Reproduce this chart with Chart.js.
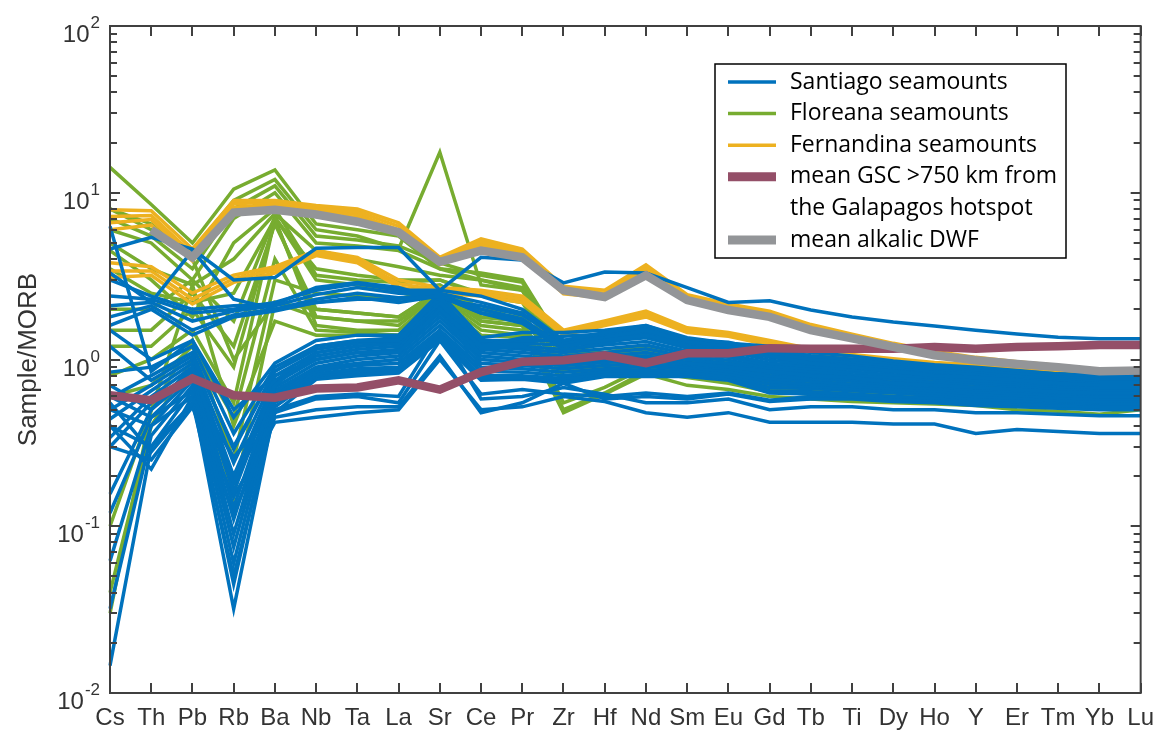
<!DOCTYPE html>
<html>
<head>
<meta charset="utf-8">
<script src="https://cdn.jsdelivr.net/npm/chart.js@4.4.0/dist/chart.umd.min.js"></script>
<style>
  html, body { margin: 0; padding: 0; background: #fff; }
  canvas { display: block; }
</style>
</head>
<body>
<canvas id="spiderChart" width="1165" height="734"></canvas>
<script>
// element order along the x axis
const elements = ["Cs", "Th", "Pb", "Rb", "Ba", "Nb", "Ta", "La", "Sr", "Ce", "Pr", "Zr", "Hf",
  "Nd", "Sm", "Eu", "Gd", "Tb", "Ti", "Dy", "Ho", "Y", "Er", "Tm", "Yb", "Lu"];

// y axis decades and their exponents
const yTickValues = [0.01, 0.1, 1, 10, 100];
const yTickExponents = ["-2", "-1", "0", "1", "2"];

// Santiago seamounts (sample/MORB)
const santiago = [
  [6.3, 0.85, 1.3, 0.5, 0.8, 1.0, 1.1, 1.1, 2.0, 1.2, 1.2, 0.95, 1.0, 1.05, 0.95, 0.9, 0.85, 0.8, 0.78, 0.72, 0.7, 0.68, 0.66, 0.64, 0.63, 0.63],
  [4.6, 5.4, 4.6, 3.0, 3.1, 4.65, 4.7, 4.7, 2.6, 4.1, 3.95, 2.88, 3.35, 3.3, 2.7, 2.2, 2.25, 1.98, 1.8, 1.68, 1.59, 1.5, 1.42, 1.36, 1.33, 1.33],
  [3.3, 2.2, 4.5, 2.3, 2.0, 2.2, 2.3, 2.3, 2.4, 1.9, 1.7, 1.2, 1.3, 1.4, 1.2, 1.1, 1.05, 0.95, 0.9, 0.85, 0.8, 0.78, 0.75, 0.72, 0.7, 0.7],
  [2.4, 2.3, 1.9, 2.0, 2.2, 2.6, 2.85, 2.6, 2.6, 2.4, 2.0, 1.3, 1.45, 1.6, 1.35, 1.25, 1.2, 1.1, 1.05, 0.98, 0.93, 0.9, 0.86, 0.82, 0.8, 0.8],
  [2.1, 2.2, 1.7, 1.95, 2.1, 2.45, 2.7, 2.5, 2.5, 2.2, 1.9, 1.25, 1.35, 1.5, 1.28, 1.2, 1.15, 1.05, 1.0, 0.95, 0.9, 0.87, 0.83, 0.8, 0.77, 0.77],
  [1.8, 2.1, 1.5, 1.85, 2.0, 2.3, 2.5, 2.35, 2.45, 2.0, 1.75, 1.2, 1.3, 1.45, 1.25, 1.15, 1.1, 1.0, 0.97, 0.92, 0.88, 0.85, 0.8, 0.78, 0.75, 0.75],
  [1.6, 2.0, 1.4, 1.8, 1.95, 2.2, 2.35, 2.2, 2.4, 1.9, 1.65, 1.15, 1.25, 1.4, 1.2, 1.1, 1.05, 0.97, 0.93, 0.9, 0.85, 0.82, 0.78, 0.76, 0.73, 0.73],
  [3.0, 2.4, 2.0, 2.1, 2.15, 2.7, 2.9, 2.7, 2.3, 2.1, 1.85, 1.3, 1.4, 1.55, 1.3, 1.2, 1.15, 1.05, 1.0, 0.95, 0.9, 0.88, 0.84, 0.8, 0.78, 0.78],
  [1.5, 1.0, 1.3, 0.45, 0.95, 1.3, 1.4, 1.4, 2.5, 1.35, 1.45, 1.45, 1.5, 1.6, 1.32, 1.27, 1.12, 1.05, 1.0, 0.96, 0.92, 0.88, 0.85, 0.82, 0.8, 0.8],
  [1.2, 0.75, 1.05, 0.3, 0.85, 1.2, 1.3, 1.3, 2.4, 1.2, 1.35, 1.38, 1.42, 1.5, 1.27, 1.22, 1.07, 1.01, 0.97, 0.93, 0.89, 0.85, 0.83, 0.8, 0.78, 0.78],
  [0.84, 0.9, 1.2, 0.36, 0.9, 1.2, 1.3, 1.35, 2.3, 1.3, 1.3, 1.3, 1.35, 1.42, 1.22, 1.17, 1.03, 0.97, 0.93, 0.9, 0.86, 0.83, 0.81, 0.78, 0.76, 0.76],
  [0.59, 0.8, 1.1, 0.29, 0.85, 1.15, 1.25, 1.3, 2.2, 1.25, 1.25, 1.22, 1.28, 1.35, 1.17, 1.12, 0.99, 0.94, 0.9, 0.87, 0.83, 0.8, 0.78, 0.76, 0.74, 0.74],
  [0.7, 0.5, 0.9, 0.18, 0.7, 1.1, 1.2, 1.25, 2.2, 1.15, 1.2, 1.15, 1.22, 1.28, 1.12, 1.07, 0.95, 0.91, 0.87, 0.84, 0.81, 0.78, 0.76, 0.74, 0.72, 0.72],
  [0.5, 0.7, 1.0, 0.24, 0.8, 1.1, 1.2, 1.25, 2.1, 1.2, 1.15, 1.1, 1.16, 1.22, 1.08, 1.03, 0.92, 0.88, 0.84, 0.81, 0.78, 0.75, 0.73, 0.71, 0.7, 0.7],
  [0.44, 0.65, 0.95, 0.2, 0.75, 1.05, 1.15, 1.2, 2.0, 1.15, 1.1, 1.05, 1.1, 1.16, 1.04, 0.99, 0.89, 0.85, 0.81, 0.78, 0.76, 0.73, 0.71, 0.69, 0.68, 0.68],
  [0.34, 0.6, 0.9, 0.16, 0.72, 1.0, 1.1, 1.15, 1.9, 1.1, 1.05, 1.0, 1.05, 1.1, 1.0, 0.95, 0.86, 0.82, 0.78, 0.76, 0.73, 0.71, 0.69, 0.67, 0.66, 0.66],
  [0.3, 0.55, 0.85, 0.13, 0.68, 0.95, 1.05, 1.1, 1.8, 1.05, 1.0, 0.96, 1.0, 1.05, 0.96, 0.92, 0.83, 0.79, 0.76, 0.73, 0.71, 0.68, 0.67, 0.65, 0.64, 0.64],
  [0.156, 0.5, 0.8, 0.11, 0.65, 0.9, 1.0, 1.05, 1.7, 1.0, 0.96, 0.92, 0.96, 1.0, 0.93, 0.88, 0.8, 0.77, 0.74, 0.71, 0.69, 0.66, 0.65, 0.63, 0.62, 0.62],
  [0.12, 0.45, 0.78, 0.09, 0.62, 0.88, 0.95, 1.0, 1.6, 0.95, 0.92, 0.88, 0.92, 0.95, 0.9, 0.85, 0.77, 0.74, 0.71, 0.69, 0.67, 0.64, 0.63, 0.61, 0.6, 0.6],
  [0.062, 0.4, 0.75, 0.075, 0.6, 0.85, 0.92, 0.95, 1.5, 0.9, 0.88, 0.84, 0.88, 0.91, 0.87, 0.82, 0.74, 0.71, 0.69, 0.67, 0.65, 0.62, 0.61, 0.59, 0.58, 0.58],
  [0.032, 0.35, 0.7, 0.06, 0.58, 0.82, 0.88, 0.9, 1.45, 0.85, 0.84, 0.8, 0.85, 0.87, 0.84, 0.79, 0.71, 0.69, 0.67, 0.65, 0.63, 0.6, 0.59, 0.57, 0.56, 0.57],
  [0.0146, 0.3, 0.65, 0.045, 0.55, 0.8, 0.85, 0.88, 1.4, 0.8, 0.8, 0.77, 0.82, 0.84, 0.82, 0.77, 0.68, 0.67, 0.65, 0.63, 0.61, 0.58, 0.57, 0.56, 0.55, 0.55],
  [0.4, 0.22, 0.6, 0.032, 0.52, 0.78, 0.82, 0.85, 1.35, 0.78, 0.78, 0.74, 0.8, 0.81, 0.8, 0.76, 0.65, 0.64, 0.62, 0.6, 0.59, 0.57, 0.56, 0.55, 0.54, 0.54],
  [0.55, 0.28, 0.55, 0.05, 0.48, 0.76, 0.8, 0.83, 1.3, 0.75, 0.76, 0.72, 0.79, 0.79, 0.79, 0.75, 0.63, 0.62, 0.6, 0.58, 0.57, 0.55, 0.54, 0.53, 0.52, 0.52],
  [0.4, 0.3, 0.55, 0.15, 0.42, 0.45, 0.48, 0.5, 1.0, 0.5, 0.52, 0.6, 0.56, 0.48, 0.45, 0.48, 0.42, 0.42, 0.42, 0.41, 0.41, 0.36, 0.38, 0.37, 0.36, 0.36],
  [0.3, 0.25, 0.52, 0.12, 0.45, 0.5, 0.52, 0.52, 1.05, 0.48, 0.55, 0.72, 0.58, 0.6, 0.58, 0.62, 0.56, 0.58, 0.58, 0.56, 0.55, 0.53, 0.52, 0.51, 0.5, 0.5],
  [0.5, 0.4, 0.6, 0.2, 0.48, 0.58, 0.6, 0.55, 1.3, 0.62, 0.66, 0.62, 0.6, 0.63, 0.6, 0.63, 0.57, 0.6, 0.6, 0.58, 0.57, 0.55, 0.54, 0.53, 0.52, 0.52],
  [0.6, 0.45, 0.65, 0.26, 0.5, 0.6, 0.62, 0.6, 1.5, 0.58, 0.6, 0.68, 0.62, 0.55, 0.55, 0.58, 0.5, 0.52, 0.52, 0.5, 0.5, 0.48, 0.48, 0.47, 0.46, 0.46]
];

// Floreana seamounts
const floreana = [
  [14.2, 8.5, 5.0, 10.5, 13.7, 6.5, 6.0, 5.5, 3.5, 3.3, 3.0, 1.2, 1.1, 1.2, 1.0, 0.95, 0.9, 0.85, 0.8, 0.78, 0.75, 0.72, 0.7, 0.68, 0.66, 0.66],
  [8.0, 6.0, 4.5, 9.0, 12.0, 6.0, 5.5, 4.6, 17.5, 2.8, 2.6, 1.1, 1.0, 1.1, 0.95, 0.9, 0.85, 0.8, 0.78, 0.75, 0.72, 0.7, 0.68, 0.66, 0.64, 0.64],
  [7.0, 5.5, 3.5, 8.0, 11.0, 5.5, 5.2, 4.8, 3.8, 3.2, 2.9, 1.15, 1.05, 1.15, 1.0, 0.93, 0.88, 0.83, 0.8, 0.77, 0.74, 0.71, 0.69, 0.67, 0.65, 0.65],
  [6.0, 5.0, 3.0, 7.0, 10.0, 5.0, 4.8, 4.5, 3.5, 3.0, 2.7, 1.1, 1.0, 1.1, 0.95, 0.9, 0.85, 0.8, 0.77, 0.74, 0.72, 0.7, 0.68, 0.66, 0.64, 0.64],
  [5.0, 3.5, 2.8, 4.0, 7.5, 4.5, 4.0, 3.6, 3.2, 3.0, 2.6, 1.0, 0.95, 1.05, 0.9, 0.87, 0.82, 0.78, 0.75, 0.72, 0.7, 0.68, 0.66, 0.64, 0.62, 0.62],
  [3.5, 2.5, 2.2, 2.5, 7.0, 3.5, 3.2, 3.0, 3.0, 2.4, 2.2, 0.9, 0.88, 0.98, 0.88, 0.84, 0.78, 0.74, 0.72, 0.7, 0.68, 0.66, 0.64, 0.62, 0.6, 0.6],
  [2.0, 2.0, 3.0, 1.7, 7.2, 3.0, 2.8, 2.6, 2.8, 2.0, 1.9, 0.85, 0.85, 0.95, 0.88, 0.82, 0.72, 0.68, 0.66, 0.64, 0.62, 0.6, 0.58, 0.57, 0.56, 0.56],
  [1.5, 1.5, 2.5, 1.2, 6.5, 2.0, 1.9, 1.8, 2.6, 1.8, 1.7, 0.55, 0.68, 0.9, 0.82, 0.78, 0.68, 0.64, 0.62, 0.6, 0.58, 0.57, 0.56, 0.54, 0.53, 0.53],
  [1.2, 1.2, 2.0, 0.9, 6.8, 1.8, 1.7, 1.6, 2.5, 1.7, 1.6, 0.5, 0.63, 0.85, 0.78, 0.72, 0.64, 0.62, 0.6, 0.58, 0.56, 0.55, 0.54, 0.53, 0.52, 0.52],
  [0.8, 1.0, 1.5, 0.55, 7.0, 1.6, 1.5, 1.5, 2.4, 1.6, 1.5, 0.48, 0.62, 0.82, 0.7, 0.66, 0.6, 0.58, 0.56, 0.55, 0.54, 0.53, 0.5, 0.49, 0.47, 0.5],
  [0.6, 0.7, 1.2, 0.45, 4.0, 1.5, 1.45, 1.4, 2.3, 1.5, 1.4, 0.75, 0.8, 0.9, 0.82, 0.76, 0.66, 0.62, 0.6, 0.58, 0.56, 0.55, 0.53, 0.52, 0.51, 0.51],
  [0.1, 0.5, 1.3, 0.25, 3.0, 2.5, 2.4, 2.3, 2.7, 1.9, 1.8, 0.85, 0.85, 0.95, 0.86, 0.8, 0.72, 0.67, 0.65, 0.63, 0.61, 0.59, 0.58, 0.56, 0.55, 0.55],
  [0.04, 0.4, 1.0, 0.15, 2.2, 1.8, 1.7, 1.7, 2.5, 1.7, 1.6, 0.8, 0.82, 0.92, 0.84, 0.78, 0.68, 0.64, 0.62, 0.6, 0.58, 0.56, 0.55, 0.54, 0.53, 0.53],
  [0.03, 0.5, 2.8, 0.4, 1.7, 1.4, 1.4, 1.4, 2.2, 1.4, 1.35, 0.9, 0.85, 0.95, 0.85, 0.8, 0.7, 0.65, 0.62, 0.6, 0.58, 0.57, 0.55, 0.54, 0.53, 0.53],
  [4.5, 3.0, 1.8, 5.0, 8.0, 3.2, 3.0, 2.9, 3.0, 2.5, 2.3, 1.0, 0.95, 1.0, 0.9, 0.86, 0.8, 0.76, 0.73, 0.7, 0.68, 0.66, 0.64, 0.62, 0.6, 0.6],
  [8.0, 6.5, 4.0, 1.0, 2.2, 2.0, 1.9, 1.8, 2.6, 1.8, 1.7, 0.95, 0.9, 0.95, 0.86, 0.82, 0.76, 0.72, 0.7, 0.67, 0.65, 0.63, 0.6, 0.58, 0.56, 0.56]
];

// Fernandina seamounts
const fernandina = [
  [7.9, 7.8, 4.6, 9.0, 9.0, 8.4, 8.0, 6.6, 4.1, 5.3, 4.6, 2.75, 2.6, 3.7, 2.45, 2.15, 1.95, 1.62, 1.42, 1.25, 1.12, 1.03, 0.97, 0.92, 0.87, 0.88],
  [7.2, 7.3, 4.3, 8.6, 8.8, 8.1, 7.7, 6.3, 3.95, 5.1, 4.45, 2.65, 2.5, 3.55, 2.38, 2.08, 1.88, 1.57, 1.38, 1.22, 1.1, 1.01, 0.95, 0.9, 0.85, 0.86],
  [6.6, 6.9, 4.1, 8.2, 8.5, 7.8, 7.4, 6.0, 3.8, 4.9, 4.3, 2.55, 2.42, 3.4, 2.3, 2.0, 1.82, 1.52, 1.34, 1.18, 1.07, 0.99, 0.93, 0.88, 0.83, 0.84],
  [6.0, 6.4, 3.9, 7.8, 8.2, 7.5, 7.1, 5.8, 3.7, 4.7, 4.15, 2.48, 2.35, 3.3, 2.22, 1.95, 1.78, 1.5, 1.32, 1.16, 1.05, 0.97, 0.91, 0.86, 0.82, 0.83],
  [3.8, 3.6, 2.5, 3.2, 3.6, 4.5, 4.1, 3.0, 2.7, 2.6, 2.4, 1.5, 1.7, 1.95, 1.55, 1.45, 1.3, 1.16, 1.07, 1.01, 0.96, 0.93, 0.9, 0.87, 0.84, 0.84],
  [3.4, 3.4, 2.3, 3.05, 3.45, 4.35, 3.95, 2.85, 2.6, 2.5, 2.3, 1.45, 1.65, 1.87, 1.5, 1.42, 1.25, 1.13, 1.05, 0.99, 0.95, 0.92, 0.89, 0.86, 0.83, 0.83],
  [3.1, 3.2, 2.15, 2.9, 3.3, 4.2, 3.8, 2.72, 2.5, 2.4, 2.2, 1.4, 1.6, 1.8, 1.45, 1.38, 1.22, 1.1, 1.03, 0.97, 0.93, 0.9, 0.87, 0.85, 0.82, 0.82]
];

// mean GSC >750 km from the Galapagos hotspot
const gscMean = [0.61, 0.57, 0.77, 0.61, 0.59, 0.67, 0.68, 0.75, 0.66, 0.84, 0.97, 0.99, 1.06, 0.95, 1.09, 1.09,
  1.17, 1.16, 1.16, 1.16, 1.19, 1.16, 1.19, 1.2, 1.22, 1.22];

// mean alkalic DWF (no Cs)
const dwfMean = [null, 6.0, 4.1, 7.6, 7.9, 7.4, 6.7, 5.8, 3.85, 4.5, 4.1, 2.6, 2.37, 3.2, 2.27, 1.98,
  1.8, 1.5, 1.34, 1.19, 1.06, 0.99, 0.94, 0.9, 0.85, 0.86];

const BLUE = "#0072BD";
const GREEN = "#77AC30";
const ORANGE = "#EDB120";
const MAROON = "#944F68";
const GRAY = "#939598";
const AXIS_COLOR = "#404040";
const TEXT_COLOR = "#333333";

function groupDatasets(rows, color, order) {
  return rows.map(row => ({
    data: row,
    borderColor: color,
    borderWidth: 3.5,
    pointRadius: 0,
    order: order
  }));
}

const datasets = [
  ...groupDatasets(floreana, GREEN, 4),
  ...groupDatasets(fernandina, ORANGE, 3),
  ...groupDatasets(santiago, BLUE, 2),
  { data: gscMean, borderColor: MAROON, borderWidth: 8.5, pointRadius: 0, order: 1 },
  { data: dwfMean, borderColor: GRAY, borderWidth: 8.5, pointRadius: 0, order: 0 }
];

const legendEntries = [
  { lines: ["Santiago seamounts"], color: BLUE, width: 3.5 },
  { lines: ["Floreana seamounts"], color: GREEN, width: 3.5 },
  { lines: ["Fernandina seamounts"], color: ORANGE, width: 3.5 },
  { lines: ["mean GSC >750 km from", "the Galapagos hotspot"], color: MAROON, width: 9 },
  { lines: ["mean alkalic DWF"], color: GRAY, width: 9 }
];

// box frame with inward ticks, drawn over the lines
const frameAndTicks = {
  id: "frameAndTicks",
  afterDatasetsDraw(chart) {
    const { ctx, chartArea: a, scales: { x, y } } = chart;
    ctx.save();
    ctx.strokeStyle = AXIS_COLOR;
    ctx.lineWidth = 2;
    ctx.beginPath();
    elements.forEach((el, i) => {
      const px = Math.round(x.getPixelForValue(i));
      ctx.moveTo(px, a.bottom); ctx.lineTo(px, a.bottom - 10);
      ctx.moveTo(px, a.top); ctx.lineTo(px, a.top + 10);
    });
    yTickValues.forEach(decade => {
      for (let m = 1; m <= 9; m++) {
        const v = decade * m;
        if (v > 100) break;
        const py = Math.round(y.getPixelForValue(v));
        const len = m === 1 ? 10 : 7;
        ctx.moveTo(a.left, py); ctx.lineTo(a.left + len, py);
        ctx.moveTo(a.right, py); ctx.lineTo(a.right - len, py);
      }
    });
    ctx.stroke();
    ctx.strokeRect(a.left, a.top, a.right - a.left, a.bottom - a.top);
    ctx.restore();
  },
  afterDraw(chart) {
    const { ctx, scales: { y } } = chart;
    ctx.save();
    ctx.fillStyle = TEXT_COLOR;
    ctx.textBaseline = "alphabetic";
    yTickValues.forEach((v, i) => {
      const py = y.getPixelForValue(v);
      ctx.font = "17px 'Liberation Sans', Arial, sans-serif";
      const expW = ctx.measureText(yTickExponents[i]).width;
      const right = 100;
      ctx.textAlign = "left";
      ctx.fillText(yTickExponents[i], right - expW, py + 2);
      ctx.font = "24px 'Liberation Sans', Arial, sans-serif";
      ctx.textAlign = "right";
      ctx.fillText("10", right - expW - 1, py + 16);
    });
    ctx.restore();
  }
};

// boxed legend in the upper right
const boxLegend = {
  id: "boxLegend",
  afterDraw(chart) {
    const { ctx, chartArea: a } = chart;
    const left = a.left + 605, top = a.top + 38, w = 351, h = 194;
    ctx.save();
    ctx.fillStyle = "#ffffff";
    ctx.fillRect(left, top, w, h);
    ctx.strokeStyle = "#000000";
    ctx.lineWidth = 1.5;
    ctx.strokeRect(left, top, w, h);
    ctx.font = "23px 'Open Sans', sans-serif";
    ctx.fillStyle = "#000000";
    ctx.textBaseline = "middle";
    ctx.textAlign = "left";
    let rowY = top + 18;
    legendEntries.forEach(entry => {
      ctx.strokeStyle = entry.color;
      ctx.lineWidth = entry.width;
      ctx.beginPath();
      ctx.moveTo(left + 13, rowY);
      ctx.lineTo(left + 61, rowY);
      ctx.stroke();
      entry.lines.forEach(line => {
        ctx.fillText(line, left + 75, rowY);
        rowY += 31.6;
      });
    });
    ctx.restore();
  }
};

new Chart(document.getElementById("spiderChart"), {
  type: "line",
  data: { labels: elements, datasets: datasets },
  options: {
    responsive: false,
    animation: false,
    devicePixelRatio: 1,
    layout: { padding: { left: 0, right: 20, top: 26, bottom: 0 } },
    elements: { line: { tension: 0 } },
    plugins: { legend: { display: false }, tooltip: { enabled: false } },
    scales: {
      x: {
        type: "category",
        offset: false,
        grid: { display: false, drawTicks: false },
        border: { display: false },
        ticks: {
          color: TEXT_COLOR,
          font: { family: "'Liberation Sans', Arial, sans-serif", size: 24 },
          padding: 11,
          autoSkip: false,
          maxRotation: 0
        },
        afterFit: s => { s.height = 41; }
      },
      y: {
        type: "logarithmic",
        min: 0.01,
        max: 100,
        grid: { display: false, drawTicks: false },
        border: { display: false },
        ticks: { display: false },
        title: {
          display: true,
          text: "Sample/MORB",
          color: TEXT_COLOR,
          font: { family: "'Liberation Sans', Arial, sans-serif", size: 26 },
          padding: { top: 13, bottom: 0 }
        },
        afterFit: s => { s.width = 110; }
      }
    }
  },
  plugins: [frameAndTicks, boxLegend]
});
</script>
</body>
</html>
